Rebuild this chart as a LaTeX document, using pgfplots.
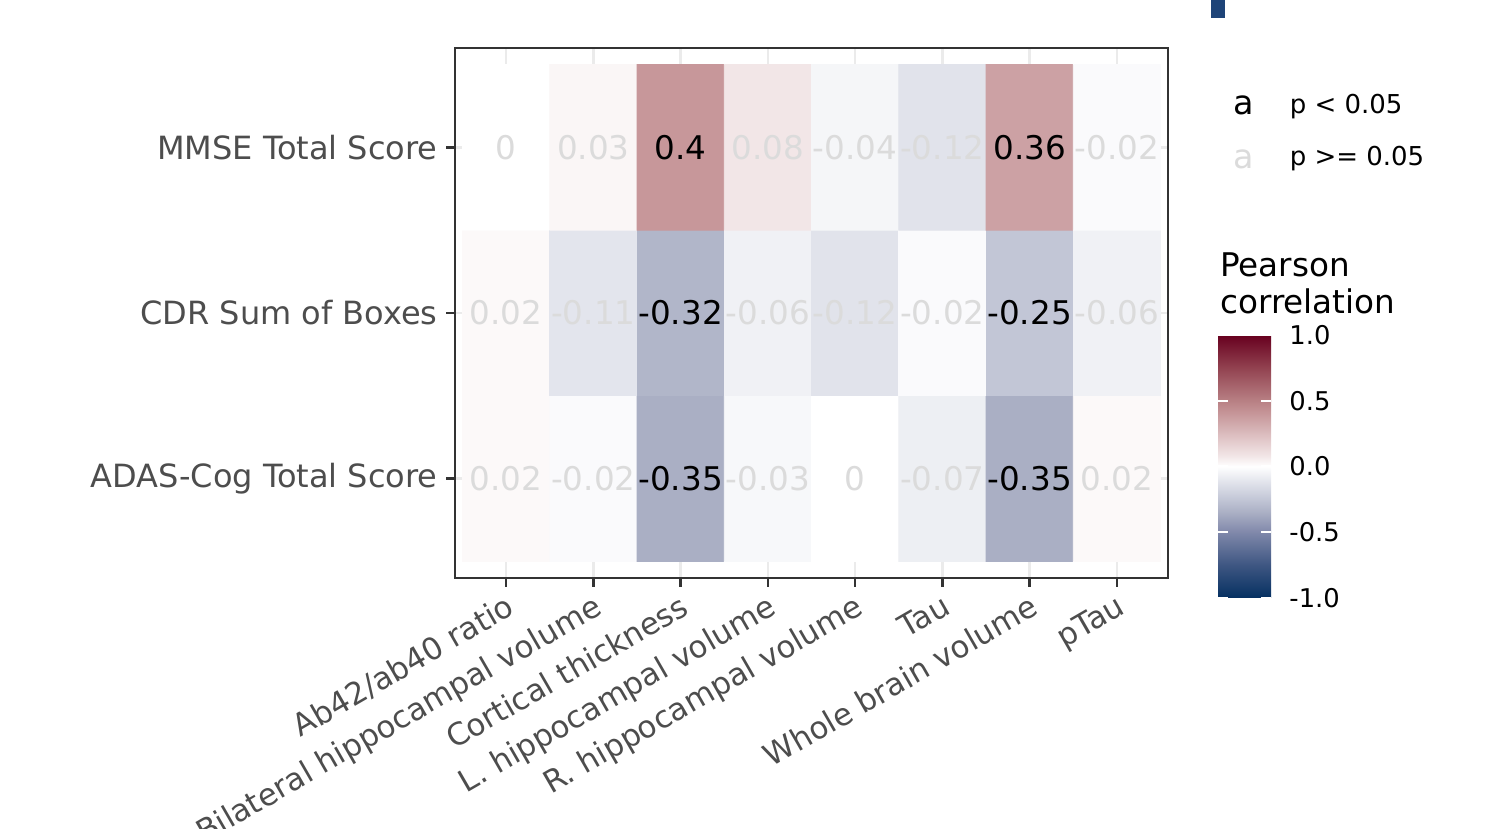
\documentclass[border=0pt]{standalone}
\usepackage{pgfplots}
\pgfplotsset{compat=1.18}
\usepackage{pgfplotstable}
\usepackage{fontspec}
\setmainfont{DejaVu Sans}
\usetikzlibrary{calc}
\definecolor{axgray}{HTML}{333333}
\definecolor{labgray}{HTML}{4D4D4D}
\definecolor{gridgray}{HTML}{EBEBEB}
\definecolor{nsgray}{RGB}{219,219,219}
\definecolor{navyrect}{RGB}{30,68,120}

\pgfplotstableread{
x y v
1 1 0.02
2 1 -0.02
3 1 -0.35
4 1 -0.03
5 1 0
6 1 -0.07
7 1 -0.35
8 1 0.02
1 2 0.02
2 2 -0.11
3 2 -0.32
4 2 -0.06
5 2 -0.12
6 2 -0.02
7 2 -0.25
8 2 -0.06
1 3 0
2 3 0.03
3 3 0.4
4 3 0.08
5 3 -0.04
6 3 -0.12
7 3 0.36
8 3 -0.02
}\heat

\pgfplotstableread{
x y lab
3 3 0.4
7 3 0.36
3 2 -0.32
7 2 -0.25
3 1 -0.35
7 1 -0.35
}\sig

\pgfplotstableread{
x y lab
1 3 0
2 3 0.03
4 3 0.08
5 3 -0.04
6 3 -0.12
8 3 -0.02
1 2 0.02
2 2 -0.11
4 2 -0.06
5 2 -0.12
6 2 -0.02
8 2 -0.06
1 1 0.02
2 1 -0.02
4 1 -0.03
5 1 0
6 1 -0.07
8 1 0.02
}\nsig

\newcommand{\ticfont}{\fontsize{16}{19}\selectfont}
\newcommand{\xticfont}{\fontsize{15.4}{18}\selectfont}
\newcommand{\cellfont}{\fontsize{16.3}{19}\selectfont}

\begin{document}
\begin{tikzpicture}
\useasboundingbox (0,0) rectangle (744.5pt,414.5pt);
\fill[navyrect] (605.5pt,405.5pt) rectangle (612.5pt,414.6pt);
\begin{axis}[
  at={(227.5pt,125.5pt)}, anchor=south west,
  scale only axis, width=356.5pt, height=265pt,
  xmin=0.414, xmax=8.586, ymin=0.4, ymax=3.6,
  xtick={1,2,3,4,5,6,7,8}, ytick={1,2,3},
  xticklabels={Ab42/ab40 ratio,Bilateral hippocampal volume,Cortical thickness,L. hippocampal volume,R. hippocampal volume,Tau,Whole brain volume,pTau},
  yticklabels={ADAS-Cog Total Score,CDR Sum of Boxes,MMSE Total Score},
  xtick pos=bottom, ytick pos=left,
  tick align=outside, major tick length=4.5pt,
  tick style={axgray, line width=1.2pt},
  axis line style={axgray, line width=1pt},
  grid=major, major grid style={gridgray, line width=1.2pt},
  xticklabel style={rotate=30, anchor=north east, font=\xticfont, text=labgray, inner sep=2pt},
  yticklabel style={font=\ticfont, text=labgray, inner sep=0pt, xshift=-4pt},
  colormap={rdbu}{
    rgb255(0pt)=(5,48,97);
    rgb255(25pt)=(62,86,130);
    rgb255(50pt)=(128,136,170);
    rgb255(65pt)=(170,175,196);
    rgb255(75pt)=(194,198,214);
    rgb255(88pt)=(225,227,235);
    rgb255(100pt)=(255,255,255);
    rgb255(108pt)=(242,230,231);
    rgb255(140pt)=(199,151,154);
    rgb255(150pt)=(184,128,132);
    rgb255(175pt)=(146,66,80);
    rgb255(200pt)=(103,0,31)
  },
  point meta min=-1, point meta max=1,
  colorbar,
  colorbar/width=26.5pt,
  colorbar style={
    at={($(parent axis.south west)+(373pt,121.5pt)$)}, anchor=north west,
    scale only axis, height=131.5pt,
    ytick={-1,-0.5,0,0.5,1}, yticklabels={-1.0,-0.5,0.0,0.5,1.0},
    ytick pos=both, yticklabel pos=right,
    tick align=inside, major tick length=5pt,
    ytick style={white, line width=1pt},
    axis line style={draw=none},
    axis on top,
    yticklabel style={font=\fontsize{12.9}{15}\selectfont, text=black, anchor=west, inner sep=0pt, xshift=9pt},
  },
]
\addplot[matrix plot*, mesh/cols=8, point meta=explicit] table[x=x, y=y, meta=v] {\heat};
\addplot[draw=none, mark=none, nodes near coords, point meta=explicit symbolic,
  nodes near coords style={anchor=center, inner sep=0pt, font=\cellfont, text=nsgray}]
  table[x=x, y=y, meta=lab] {\nsig};
\addplot[draw=none, mark=none, nodes near coords, point meta=explicit symbolic,
  nodes near coords style={anchor=center, inner sep=0pt, font=\cellfont, text=black}]
  table[x=x, y=y, meta=lab] {\sig};
\end{axis}
\node[anchor=base west, font=\fontsize{16.3}{19}\selectfont, inner sep=0pt] at (610pt,276.2pt) {Pearson};
\node[anchor=base west, font=\fontsize{16.3}{19}\selectfont, inner sep=0pt] at (610pt,257.9pt) {correlation};
\node[anchor=base, font=\fontsize{16.7}{20}\selectfont, inner sep=0pt] at (622pt,357pt) {a};
\node[anchor=base, font=\fontsize{16.7}{20}\selectfont, inner sep=0pt, text=nsgray] at (622pt,330.4pt) {a};
\node[anchor=base west, font=\fontsize{13}{15}\selectfont, inner sep=0pt] at (644.7pt,357.8pt) {p < 0.05};
\node[anchor=base west, font=\fontsize{13}{15}\selectfont, inner sep=0pt] at (644.7pt,331.7pt) {p >= 0.05};
\end{tikzpicture}
\end{document}
